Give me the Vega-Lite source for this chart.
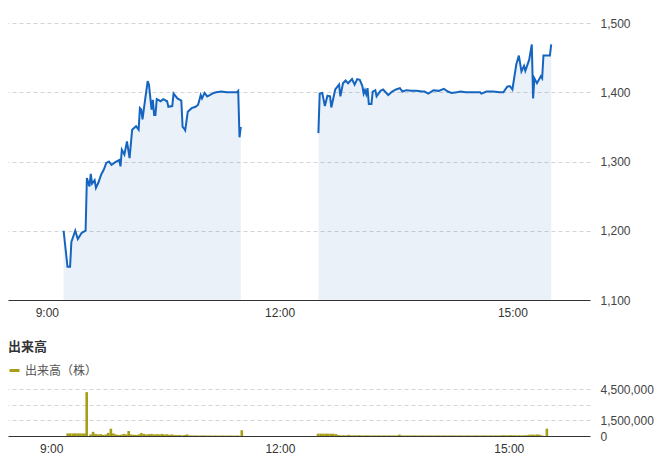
{
  "$schema": "https://vega.github.io/schema/vega-lite/v6.json",
  "padding": {"left": 8, "top": 17, "right": 0, "bottom": 0},
  "spacing": 23,
  "resolve": {"legend": {"color": "independent"}, "scale": {"color": "independent"}},
  "config": {
    "view": {"stroke": null},
    "font": "Liberation Sans, Noto Sans CJK JP",
    "axis": {"labelFont": "Liberation Sans, Noto Sans CJK JP", "labelFontSize": 12, "labelColor": "#444", "ticks": false, "title": null, "gridColor": "#d4d4d4", "gridDash": [4, 3], "domain": false},
    "legend": {"labelFont": "Liberation Sans, Noto Sans CJK JP"}
  },
  "vconcat": [
    {
      "width": 582,
      "height": 277,
      "data": {
        "format": {"parse": {"t": "date:'%H:%M'"}},
        "values": [
          {"t": "09:13", "p": 1200, "s": "am"}, {"t": "09:16", "p": 1148, "s": "am"}, {"t": "09:18", "p": 1148, "s": "am"}, {"t": "09:19", "p": 1184, "s": "am"}, {"t": "09:22", "p": 1200, "s": "am"}, {"t": "09:24", "p": 1188, "s": "am"}, {"t": "09:27", "p": 1197, "s": "am"}, {"t": "09:30", "p": 1200, "s": "am"}, {"t": "09:31", "p": 1276, "s": "am"}, {"t": "09:33", "p": 1264, "s": "am"}, {"t": "09:34", "p": 1282, "s": "am"}, {"t": "09:35", "p": 1268, "s": "am"}, {"t": "09:37", "p": 1273, "s": "am"}, {"t": "09:38", "p": 1262, "s": "am"}, {"t": "09:40", "p": 1270, "s": "am"}, {"t": "09:42", "p": 1281, "s": "am"}, {"t": "09:44", "p": 1288, "s": "am"}, {"t": "09:46", "p": 1298, "s": "am"}, {"t": "09:48", "p": 1300, "s": "am"}, {"t": "09:50", "p": 1295, "s": "am"}, {"t": "09:53", "p": 1299, "s": "am"}, {"t": "09:56", "p": 1302, "s": "am"}, {"t": "09:57", "p": 1293, "s": "am"}, {"t": "09:58", "p": 1317, "s": "am"}, {"t": "10:00", "p": 1310, "s": "am"}, {"t": "10:02", "p": 1329, "s": "am"}, {"t": "10:04", "p": 1305, "s": "am"}, {"t": "10:06", "p": 1346, "s": "am"}, {"t": "10:09", "p": 1351, "s": "am"}, {"t": "10:11", "p": 1346, "s": "am"}, {"t": "10:12", "p": 1377, "s": "am"}, {"t": "10:13", "p": 1375, "s": "am"}, {"t": "10:14", "p": 1361, "s": "am"}, {"t": "10:16", "p": 1389, "s": "am"}, {"t": "10:18", "p": 1416, "s": "am"}, {"t": "10:19", "p": 1411, "s": "am"}, {"t": "10:21", "p": 1375, "s": "am"}, {"t": "10:22", "p": 1389, "s": "am"}, {"t": "10:23", "p": 1367, "s": "am"}, {"t": "10:24", "p": 1367, "s": "am"}, {"t": "10:25", "p": 1390, "s": "am"}, {"t": "10:28", "p": 1387, "s": "am"}, {"t": "10:30", "p": 1390, "s": "am"}, {"t": "10:33", "p": 1387, "s": "am"}, {"t": "10:34", "p": 1379, "s": "am"}, {"t": "10:37", "p": 1380, "s": "am"}, {"t": "10:38", "p": 1398, "s": "am"}, {"t": "10:41", "p": 1391, "s": "am"}, {"t": "10:44", "p": 1388, "s": "am"}, {"t": "10:45", "p": 1350, "s": "am"}, {"t": "10:46", "p": 1348, "s": "am"}, {"t": "10:47", "p": 1345, "s": "am"}, {"t": "10:49", "p": 1372, "s": "am"}, {"t": "10:52", "p": 1377, "s": "am"}, {"t": "10:55", "p": 1379, "s": "am"}, {"t": "10:57", "p": 1382, "s": "am"}, {"t": "10:59", "p": 1396, "s": "am"}, {"t": "11:00", "p": 1391, "s": "am"}, {"t": "11:02", "p": 1399, "s": "am"}, {"t": "11:04", "p": 1394, "s": "am"}, {"t": "11:06", "p": 1396, "s": "am"}, {"t": "11:09", "p": 1399, "s": "am"}, {"t": "11:11", "p": 1400, "s": "am"}, {"t": "11:15", "p": 1401, "s": "am"}, {"t": "11:19", "p": 1400, "s": "am"}, {"t": "11:23", "p": 1400, "s": "am"}, {"t": "11:27", "p": 1400, "s": "am"}, {"t": "11:28", "p": 1402, "s": "am"}, {"t": "11:29", "p": 1335, "s": "am"}, {"t": "11:30", "p": 1350, "s": "am"},
          {"t": "12:30", "p": 1341, "s": "pm"}, {"t": "12:31", "p": 1398, "s": "pm"}, {"t": "12:33", "p": 1399, "s": "pm"}, {"t": "12:35", "p": 1380, "s": "pm"}, {"t": "12:37", "p": 1395, "s": "pm"}, {"t": "12:39", "p": 1394, "s": "pm"}, {"t": "12:40", "p": 1378, "s": "pm"}, {"t": "12:43", "p": 1404, "s": "pm"}, {"t": "12:46", "p": 1411, "s": "pm"}, {"t": "12:47", "p": 1394, "s": "pm"}, {"t": "12:49", "p": 1413, "s": "pm"}, {"t": "12:51", "p": 1417, "s": "pm"}, {"t": "12:53", "p": 1413, "s": "pm"}, {"t": "12:56", "p": 1419, "s": "pm"}, {"t": "12:58", "p": 1411, "s": "pm"}, {"t": "13:00", "p": 1419, "s": "pm"}, {"t": "13:02", "p": 1418, "s": "pm"}, {"t": "13:04", "p": 1409, "s": "pm"}, {"t": "13:05", "p": 1398, "s": "pm"}, {"t": "13:06", "p": 1403, "s": "pm"}, {"t": "13:07", "p": 1397, "s": "pm"}, {"t": "13:08", "p": 1406, "s": "pm"}, {"t": "13:09", "p": 1383, "s": "pm"}, {"t": "13:11", "p": 1383, "s": "pm"}, {"t": "13:12", "p": 1401, "s": "pm"}, {"t": "13:14", "p": 1403, "s": "pm"}, {"t": "13:15", "p": 1394, "s": "pm"}, {"t": "13:18", "p": 1402, "s": "pm"}, {"t": "13:20", "p": 1404, "s": "pm"}, {"t": "13:22", "p": 1400, "s": "pm"}, {"t": "13:24", "p": 1396, "s": "pm"}, {"t": "13:27", "p": 1401, "s": "pm"}, {"t": "13:30", "p": 1404, "s": "pm"}, {"t": "13:33", "p": 1406, "s": "pm"}, {"t": "13:35", "p": 1401, "s": "pm"}, {"t": "13:38", "p": 1403, "s": "pm"}, {"t": "13:42", "p": 1402, "s": "pm"}, {"t": "13:46", "p": 1402, "s": "pm"}, {"t": "13:50", "p": 1401, "s": "pm"}, {"t": "13:52", "p": 1401, "s": "pm"}, {"t": "13:55", "p": 1398, "s": "pm"}, {"t": "13:59", "p": 1403, "s": "pm"}, {"t": "14:03", "p": 1402, "s": "pm"}, {"t": "14:07", "p": 1405, "s": "pm"}, {"t": "14:10", "p": 1401, "s": "pm"}, {"t": "14:13", "p": 1399, "s": "pm"}, {"t": "14:17", "p": 1400, "s": "pm"}, {"t": "14:20", "p": 1401, "s": "pm"}, {"t": "14:24", "p": 1400, "s": "pm"}, {"t": "14:27", "p": 1400, "s": "pm"}, {"t": "14:31", "p": 1400, "s": "pm"}, {"t": "14:35", "p": 1400, "s": "pm"}, {"t": "14:36", "p": 1398, "s": "pm"}, {"t": "14:40", "p": 1401, "s": "pm"}, {"t": "14:45", "p": 1401, "s": "pm"}, {"t": "14:50", "p": 1400, "s": "pm"}, {"t": "14:53", "p": 1400, "s": "pm"}, {"t": "14:56", "p": 1408, "s": "pm"}, {"t": "14:58", "p": 1409, "s": "pm"}, {"t": "15:00", "p": 1404, "s": "pm"}, {"t": "15:03", "p": 1440, "s": "pm"}, {"t": "15:05", "p": 1453, "s": "pm"}, {"t": "15:07", "p": 1430, "s": "pm"}, {"t": "15:09", "p": 1438, "s": "pm"}, {"t": "15:10", "p": 1431, "s": "pm"}, {"t": "15:13", "p": 1447, "s": "pm"}, {"t": "15:15", "p": 1469, "s": "pm"}, {"t": "15:16", "p": 1391, "s": "pm"}, {"t": "15:17", "p": 1420, "s": "pm"}, {"t": "15:19", "p": 1413, "s": "pm"}, {"t": "15:22", "p": 1423, "s": "pm"}, {"t": "15:23", "p": 1420, "s": "pm"}, {"t": "15:24", "p": 1453, "s": "pm"}, {"t": "15:29", "p": 1453, "s": "pm"}, {"t": "15:30", "p": 1469, "s": "pm"}
        ]
      },
      "encoding": {
        "x": {
          "field": "t", "type": "temporal",
          "scale": {"domain": [{"year": 1900, "month": 1, "date": 1, "hours": 8, "minutes": 30}, {"year": 1900, "month": 1, "date": 1, "hours": 16, "minutes": 0}]},
          "axis": {"values": [{"year": 1900, "month": 1, "date": 1, "hours": 9}, {"year": 1900, "month": 1, "date": 1, "hours": 12}, {"year": 1900, "month": 1, "date": 1, "hours": 15}], "format": "%-H:%M", "grid": false, "domain": true, "domainColor": "#333", "labelPadding": 7, "labelColor": "#333"}
        }
      },
      "layer": [
        {
          "mark": {"type": "area", "color": "#1565c0", "fillOpacity": 0.09},
          "encoding": {
            "y": {"field": "p", "type": "quantitative", "scale": {"domain": [1100, 1500], "zero": false, "nice": false}, "axis": {"orient": "right", "values": [1100, 1200, 1300, 1400, 1500], "format": ",d", "labelPadding": 10}},
            "y2": {"datum": 1100},
            "detail": {"field": "s"}
          }
        },
        {
          "mark": {"type": "line", "color": "#1565c0", "strokeWidth": 2},
          "encoding": {
            "y": {"field": "p", "type": "quantitative"},
            "detail": {"field": "s"}
          }
        }
      ]
    },
    {
      "width": 582,
      "height": 47,
      "title": {"text": "出来高", "anchor": "start", "fontSize": 13, "fontWeight": "bold", "color": "#333", "offset": 10, "font": "Liberation Sans, Noto Sans CJK JP"},
      "data": {
        "format": {"parse": {"t": "date:'%H:%M'"}},
        "values": [
          {"t": "09:13", "v": 250000}, {"t": "09:15", "v": 250000}, {"t": "09:17", "v": 250000}, {"t": "09:19", "v": 260000}, {"t": "09:21", "v": 250000}, {"t": "09:23", "v": 250000}, {"t": "09:25", "v": 240000}, {"t": "09:27", "v": 250000}, {"t": "09:28", "v": 4200000}, {"t": "09:31", "v": 150000}, {"t": "09:33", "v": 400000}, {"t": "09:35", "v": 200000}, {"t": "09:37", "v": 150000}, {"t": "09:39", "v": 180000}, {"t": "09:41", "v": 100000}, {"t": "09:43", "v": 150000}, {"t": "09:45", "v": 300000}, {"t": "09:47", "v": 700000}, {"t": "09:49", "v": 250000}, {"t": "09:51", "v": 150000}, {"t": "09:53", "v": 100000}, {"t": "09:55", "v": 120000}, {"t": "09:57", "v": 200000}, {"t": "09:59", "v": 150000}, {"t": "10:01", "v": 480000}, {"t": "10:03", "v": 150000}, {"t": "10:05", "v": 120000}, {"t": "10:07", "v": 100000}, {"t": "10:09", "v": 150000}, {"t": "10:11", "v": 280000}, {"t": "10:13", "v": 200000}, {"t": "10:15", "v": 150000}, {"t": "10:17", "v": 180000}, {"t": "10:19", "v": 200000}, {"t": "10:21", "v": 150000}, {"t": "10:23", "v": 180000}, {"t": "10:25", "v": 150000}, {"t": "10:27", "v": 200000}, {"t": "10:29", "v": 150000}, {"t": "10:31", "v": 170000}, {"t": "10:33", "v": 120000}, {"t": "10:35", "v": 150000}, {"t": "10:37", "v": 100000}, {"t": "10:39", "v": 80000}, {"t": "10:41", "v": 100000}, {"t": "10:43", "v": 60000}, {"t": "10:45", "v": 100000}, {"t": "10:47", "v": 150000}, {"t": "10:49", "v": 60000}, {"t": "10:51", "v": 50000}, {"t": "10:53", "v": 60000}, {"t": "10:55", "v": 50000}, {"t": "10:57", "v": 40000}, {"t": "10:59", "v": 60000}, {"t": "11:01", "v": 50000}, {"t": "11:03", "v": 40000}, {"t": "11:05", "v": 50000}, {"t": "11:07", "v": 40000}, {"t": "11:09", "v": 50000}, {"t": "11:11", "v": 40000}, {"t": "11:13", "v": 40000}, {"t": "11:15", "v": 50000}, {"t": "11:17", "v": 40000}, {"t": "11:19", "v": 40000}, {"t": "11:21", "v": 50000}, {"t": "11:23", "v": 40000}, {"t": "11:25", "v": 40000}, {"t": "11:27", "v": 50000}, {"t": "11:30", "v": 550000},
          {"t": "12:30", "v": 220000}, {"t": "12:32", "v": 230000}, {"t": "12:34", "v": 220000}, {"t": "12:36", "v": 225000}, {"t": "12:38", "v": 220000}, {"t": "12:40", "v": 215000}, {"t": "12:42", "v": 220000}, {"t": "12:44", "v": 180000}, {"t": "12:46", "v": 90000}, {"t": "12:48", "v": 60000}, {"t": "12:50", "v": 80000}, {"t": "12:52", "v": 60000}, {"t": "12:54", "v": 110000}, {"t": "12:56", "v": 60000}, {"t": "12:58", "v": 70000}, {"t": "13:00", "v": 60000}, {"t": "13:02", "v": 80000}, {"t": "13:04", "v": 60000}, {"t": "13:06", "v": 50000}, {"t": "13:08", "v": 70000}, {"t": "13:10", "v": 60000}, {"t": "13:12", "v": 50000}, {"t": "13:14", "v": 60000}, {"t": "13:16", "v": 50000}, {"t": "13:18", "v": 60000}, {"t": "13:20", "v": 50000}, {"t": "13:22", "v": 60000}, {"t": "13:24", "v": 50000}, {"t": "13:26", "v": 60000}, {"t": "13:28", "v": 50000}, {"t": "13:30", "v": 60000}, {"t": "13:32", "v": 50000}, {"t": "13:34", "v": 140000}, {"t": "13:36", "v": 60000}, {"t": "13:38", "v": 50000}, {"t": "13:40", "v": 60000}, {"t": "13:42", "v": 50000}, {"t": "13:44", "v": 50000}, {"t": "13:46", "v": 60000}, {"t": "13:48", "v": 50000}, {"t": "13:50", "v": 50000}, {"t": "13:52", "v": 60000}, {"t": "13:54", "v": 50000}, {"t": "13:56", "v": 50000}, {"t": "13:58", "v": 60000}, {"t": "14:00", "v": 50000}, {"t": "14:02", "v": 50000}, {"t": "14:04", "v": 60000}, {"t": "14:06", "v": 50000}, {"t": "14:08", "v": 50000}, {"t": "14:10", "v": 60000}, {"t": "14:12", "v": 50000}, {"t": "14:14", "v": 50000}, {"t": "14:16", "v": 60000}, {"t": "14:18", "v": 50000}, {"t": "14:20", "v": 50000}, {"t": "14:22", "v": 60000}, {"t": "14:24", "v": 50000}, {"t": "14:26", "v": 50000}, {"t": "14:28", "v": 60000}, {"t": "14:30", "v": 50000}, {"t": "14:32", "v": 50000}, {"t": "14:34", "v": 60000}, {"t": "14:36", "v": 50000}, {"t": "14:38", "v": 50000}, {"t": "14:40", "v": 60000}, {"t": "14:42", "v": 50000}, {"t": "14:44", "v": 50000}, {"t": "14:46", "v": 60000}, {"t": "14:48", "v": 50000}, {"t": "14:50", "v": 60000}, {"t": "14:52", "v": 50000}, {"t": "14:54", "v": 70000}, {"t": "14:56", "v": 80000}, {"t": "14:58", "v": 60000}, {"t": "15:00", "v": 70000}, {"t": "15:02", "v": 80000}, {"t": "15:04", "v": 70000}, {"t": "15:06", "v": 60000}, {"t": "15:08", "v": 70000}, {"t": "15:10", "v": 60000}, {"t": "15:12", "v": 70000}, {"t": "15:14", "v": 80000}, {"t": "15:16", "v": 120000}, {"t": "15:18", "v": 140000}, {"t": "15:20", "v": 120000}, {"t": "15:22", "v": 150000}, {"t": "15:24", "v": 130000}, {"t": "15:26", "v": 60000}, {"t": "15:30", "v": 700000}
        ]
      },
      "mark": {"type": "bar", "size": 2.6},
      "encoding": {
        "x": {
          "field": "t", "type": "temporal",
          "scale": {"domain": [{"year": 1900, "month": 1, "date": 1, "hours": 8, "minutes": 30}, {"year": 1900, "month": 1, "date": 1, "hours": 16, "minutes": 0}]},
          "axis": {"values": [{"year": 1900, "month": 1, "date": 1, "hours": 9}, {"year": 1900, "month": 1, "date": 1, "hours": 12}, {"year": 1900, "month": 1, "date": 1, "hours": 15}], "format": "%-H:%M", "grid": false, "domain": true, "domainColor": "#333", "labelPadding": 7, "labelColor": "#333"}
        },
        "y": {"field": "v", "type": "quantitative", "scale": {"domain": [0, 4500000], "nice": false}, "axis": {"orient": "right", "values": [0, 1500000, 3000000, 4500000], "format": ",d", "labelExpr": "datum.value == 3000000 ? '' : datum.label", "labelPadding": 10}},
        "color": {"datum": "出来高（株）", "scale": {"range": ["#a59e16"]}, "legend": {"orient": "top", "title": null, "symbolType": "stroke", "symbolStrokeWidth": 3, "symbolSize": 100, "symbolStrokeColor": "#a59e16", "labelFontSize": 12, "labelColor": "#555", "offset": 12}}
      }
    }
  ]
}
